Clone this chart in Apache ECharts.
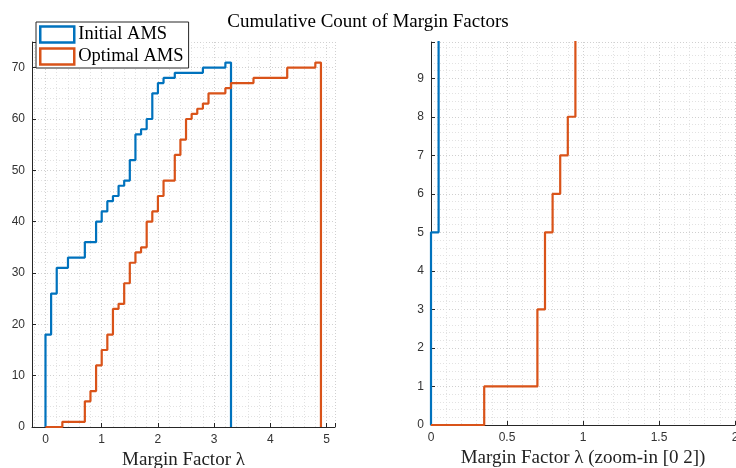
<!DOCTYPE html>
<html>
<head>
<meta charset="utf-8">
<script src="https://cdn.jsdelivr.net/npm/echarts@6/dist/echarts.min.js"></script>
<style>
  html, body { margin: 0; padding: 0; background: #fff; }
  #chart { width: 736px; height: 468px; }
</style>
</head>
<body>
<div id="chart"></div>
<script>
// left panel: cumulative counts, 0.1-wide bins (edge -> count after edge)
const blueLambda = [0, 0, 0.1, 0.2, 0.4, 0.7, 0.9, 1.0, 1.1, 1.2, 1.3, 1.4, 1.5, 1.6, 1.7, 1.8, 1.9, 2.0, 2.1, 2.3, 2.8, 3.2, 3.3];
const blueCount  = [0, 18, 26, 31, 33, 36, 40, 42, 44, 45, 47, 48, 52, 57, 58, 60, 65, 67, 68, 69, 70, 71, 0];

const orangeLambda = [0, 0.3, 0.7, 0.8, 0.9, 1.0, 1.1, 1.2, 1.3, 1.4, 1.5, 1.6, 1.7, 1.8, 1.9, 2.0, 2.1, 2.3, 2.4, 2.5, 2.6, 2.7, 2.8, 2.9, 3.2, 3.3, 3.7, 4.3, 4.8, 4.9];
const orangeCount  = [0, 1, 5, 7, 12, 15, 18, 23, 24, 28, 32, 34, 35, 40, 42, 45, 48, 53, 56, 60, 61, 62, 63, 65, 66, 67, 68, 70, 71, 0];

// right panel (zoom-in [0 2]): finer 0.05-wide bins
const blueLambdaZoom = [0, 0, 0.05];
const blueCountZoom  = [0, 5, 18];
const orangeLambdaZoom = [0, 0.35, 0.7, 0.75, 0.8, 0.85, 0.9, 0.95];
const orangeCountZoom  = [0, 1, 3, 5, 6, 7, 8, 12];

const seriesNames = ["Initial AMS", "Optimal AMS"];
const titleText = "Cumulative Count of Margin Factors";
const xNameLeft = "Margin Factor \u03bb";
const xNameRight = "Margin Factor \u03bb (zoom-in [0 2])";

const BLUE = "#0072BD";
const ORANGE = "#D95319";
const AXIS = "#262626";
const SERIF = "'Liberation Serif', 'DejaVu Serif', serif";
const SANS = "'Liberation Sans', Arial, sans-serif";

const zip = (xs, ys) => xs.map((x, i) => [x, ys[i]]);

// shared axis look (MATLAB-ish: inward ticks, dotted grid)
const axisBase = (extra) => Object.assign({
  type: "value",
  axisLine: { show: true, onZero: false, lineStyle: { color: AXIS, width: 1 } },
  axisTick: { show: true, inside: true, length: 4, lineStyle: { color: AXIS } },
  axisLabel: { color: "#333", fontFamily: SANS, fontSize: 12 },
  splitLine: { show: true, lineStyle: { color: "#d0d0d0", type: [1, 2], width: 1 } },
  minorTick: { show: true, splitNumber: 5, length: 0 },
  minorSplitLine: { show: true, lineStyle: { color: "#e2e2e2", type: [1, 2], width: 1 } },
}, extra);

const labelStyle = (extra) => Object.assign({ color: "#333", fontFamily: SANS, fontSize: 12, margin: 7 }, extra);
const nameStyle = { fontFamily: SERIF, fontSize: 19, color: "#222" };

const stairs = (name, data, color, idx) => ({
  name,
  type: "line",
  xAxisIndex: idx,
  yAxisIndex: idx,
  step: "end",
  data,
  showSymbol: false,
  symbol: "none",
  lineStyle: { color, width: 2.2 },
  itemStyle: { color },
  clip: true,
});

const chart = echarts.init(document.getElementById("chart"), null, { renderer: "canvas" });

chart.setOption({
  animation: false,
  backgroundColor: "#fff",
  title: {
    text: titleText,
    left: "center",
    top: 8,
    textStyle: { fontFamily: SERIF, fontSize: 19, fontWeight: "normal", color: "#000" },
  },
  legend: {
    orient: "vertical",
    left: 36,
    top: 22,
    padding: [3, 5, 2, 3],
    itemGap: 3,
    itemWidth: 34,
    itemHeight: 16,
    backgroundColor: "#fff",
    borderColor: AXIS,
    borderWidth: 1,
    borderRadius: 0,
    textStyle: { fontFamily: SERIF, fontSize: 18.5, color: "#000", padding: [0, 0, 0, -1] },
    data: [
      { name: seriesNames[0], icon: "rect", itemStyle: { color: "#fff", borderColor: BLUE, borderWidth: 2.5 } },
      { name: seriesNames[1], icon: "rect", itemStyle: { color: "#fff", borderColor: ORANGE, borderWidth: 2.5 } },
    ],
  },
  grid: [
    { left: 32, top: 42, width: 303, height: 385, outerBoundsMode: "none", containLabel: false },
    { left: 431, top: 42, width: 304, height: 383, outerBoundsMode: "none", containLabel: false },
  ],
  xAxis: [
    axisBase({
      gridIndex: 0,
      min: -0.24,
      max: 5.15,
      splitNumber: 5,
      name: xNameLeft,
      nameLocation: "middle",
      nameGap: 21,
      nameTextStyle: nameStyle,
      axisLabel: labelStyle({ showMinLabel: false, showMaxLabel: false }),
    }),
    axisBase({
      gridIndex: 1,
      min: 0,
      max: 2,
      interval: 0.5,
      name: xNameRight,
      nameLocation: "middle",
      nameGap: 24,
      nameTextStyle: nameStyle,
      axisLabel: labelStyle({}),
    }),
  ],
  yAxis: [
    axisBase({
      gridIndex: 0,
      min: 0,
      max: 75,
      interval: 10,
      axisLabel: labelStyle({ showMaxLabel: false }),
    }),
    axisBase({
      gridIndex: 1,
      min: 0,
      max: 9.94,
      interval: 1,
      axisLabel: labelStyle({ showMaxLabel: false }),
    }),
  ],
  series: [
    stairs(seriesNames[0], zip(blueLambda, blueCount), BLUE, 0),
    stairs(seriesNames[1], zip(orangeLambda, orangeCount), ORANGE, 0),
    stairs(seriesNames[0], zip(blueLambdaZoom, blueCountZoom), BLUE, 1),
    stairs(seriesNames[1], zip(orangeLambdaZoom, orangeCountZoom), ORANGE, 1),
  ],
});
</script>
</body>
</html>
